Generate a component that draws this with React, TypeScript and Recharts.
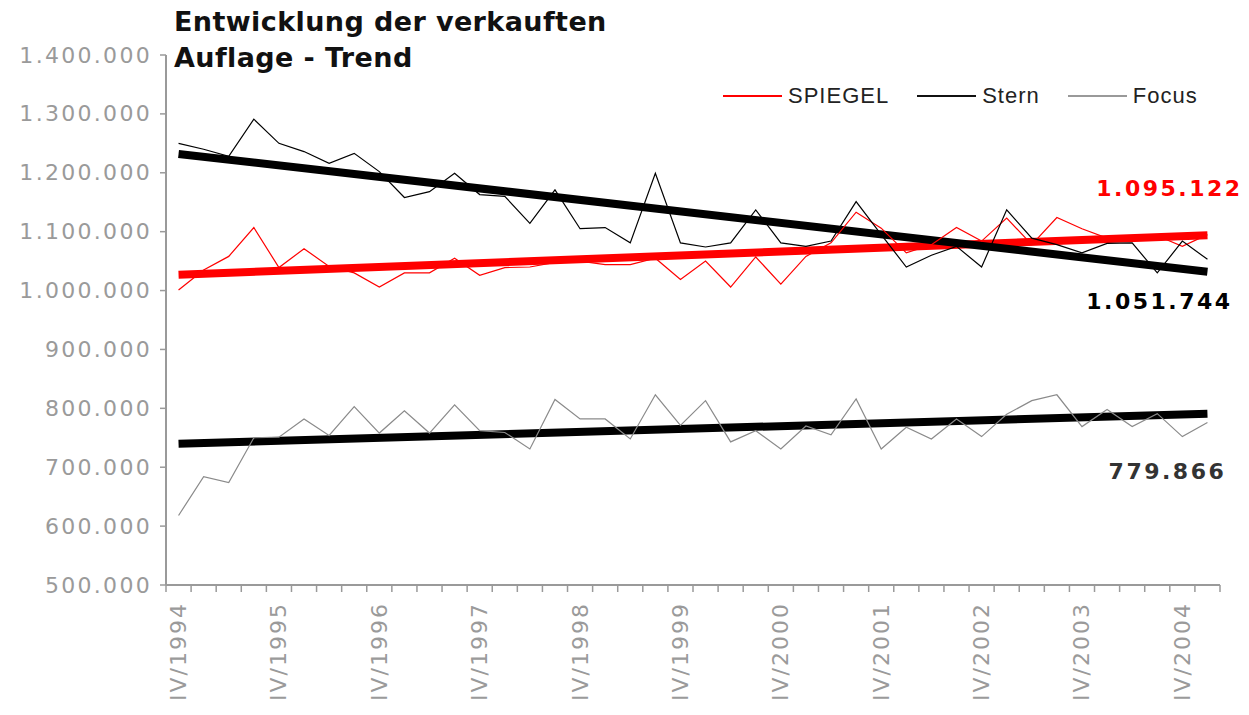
import React from "react";
import { LineChart, Line, XAxis, YAxis } from "recharts";

// quarterly sold circulation, IV/1994 .. I/2005
const tickLabels = [
  "IV/1994", "IV/1995", "IV/1996", "IV/1997", "IV/1998", "IV/1999",
  "IV/2000", "IV/2001", "IV/2002", "IV/2003", "IV/2004",
];

const spiegel = [
  1001000, 1035000, 1058000, 1107000, 1039000, 1071000, 1041000, 1030000,
  1006000, 1030000, 1030000, 1055000, 1026000, 1039000, 1040000, 1048000,
  1050000, 1044000, 1044000, 1055000, 1019000, 1050000, 1006000, 1057000,
  1011000, 1058000, 1081000, 1133000, 1106000, 1064000, 1078000, 1107000,
  1084000, 1123000, 1078000, 1124000, 1105000, 1089000, 1090000, 1093000,
  1075000, 1095000,
];

const stern = [
  1250000, 1240000, 1228000, 1291000, 1250000, 1236000, 1216000, 1233000,
  1202000, 1158000, 1168000, 1199000, 1163000, 1160000, 1114000, 1171000,
  1105000, 1107000, 1081000, 1199000, 1081000, 1074000, 1081000, 1137000,
  1081000, 1075000, 1084000, 1151000, 1095000, 1040000, 1060000, 1075000,
  1040000, 1137000, 1089000, 1078000, 1064000, 1080000, 1081000, 1030000,
  1084000, 1053000,
];

const focus = [
  618000, 684000, 674000, 750000, 751000, 782000, 754000, 803000,
  758000, 796000, 758000, 806000, 762000, 759000, 731000, 815000,
  782000, 782000, 748000, 823000, 771000, 813000, 743000, 762000,
  731000, 770000, 755000, 816000, 731000, 768000, 748000, 782000,
  752000, 790000, 813000, 823000, 769000, 798000, 769000, 791000,
  752000, 776000,
];

// trend lines: first and last value
const spiegelTrend = [1027000, 1094000];
const sternTrend = [1232000, 1032000];
const focusTrend = [740000, 791000];
const trendLabels = ["1.095.122", "1.051.744", "779.866"];

const yTicks = [500000, 600000, 700000, 800000, 900000, 1000000, 1100000, 1200000, 1300000, 1400000];

const GRAY = "#9a9a9a";
const FONT = "'DejaVu Sans', Verdana, sans-serif";

const rows = spiegel.map((v, i) => ({ i, spiegel: v, stern: stern[i], focus: focus[i] }));
const lastIdx = rows.length - 1;
const trendRows = (vals: number[]) => [
  { i: 0, t: vals[0] },
  { i: lastIdx, t: vals[1] },
];

const xTicks: number[] = [];
for (let k = 0; k <= rows.length; k++) xTicks.push(k - 0.5);
tickLabels.forEach((_, n) => xTicks.push(n * 4));
xTicks.sort((a, b) => a - b);

const fmt = (v: number) => String(v).replace(/\B(?=(\d{3})+(?!\d))/g, ".");

function XTick({ x, y, payload }: any) {
  const v = payload.value;
  if (!Number.isInteger(v)) {
    return <line x1={x} x2={x} y1={y} y2={y + 7} stroke={GRAY} strokeWidth={1.5} />;
  }
  return (
    <text
      transform={`translate(${x},${y + 17}) rotate(-90)`}
      textAnchor="end"
      dominantBaseline="central"
      fill={GRAY}
      fontSize={22}
      fontFamily={FONT}
      letterSpacing={2}
    >
      {tickLabels[v / 4]}
    </text>
  );
}

function YTick({ x, y, payload }: any) {
  return (
    <text
      x={x}
      y={y}
      textAnchor="end"
      dominantBaseline="central"
      fill={GRAY}
      fontSize={22}
      fontFamily={FONT}
      letterSpacing={2.3}
    >
      {fmt(payload.value)}
    </text>
  );
}

const endLabel = (text: string, color: string, dx: number, dy: number) => (p: any) =>
  p.index === 1 ? (
    <text
      key={`lbl-${p.index}`}
      x={p.cx + dx}
      y={p.cy + dy}
      textAnchor="middle"
      dominantBaseline="central"
      fill={color}
      fontSize={22}
      fontWeight="bold"
      fontFamily={FONT}
      letterSpacing={2.5}
    >
      {text}
    </text>
  ) : (
    <g key={`lbl-${p.index}`} />
  );

const legendItems = [
  { name: "SPIEGEL", color: "#ff0000" },
  { name: "Stern", color: "#111111" },
  { name: "Focus", color: "#999999" },
];

export default function App() {
  return (
    <div style={{ position: "absolute", left: 0, top: 0, width: 1249, height: 715, background: "#fff" }}>
      <div
        style={{
          position: "absolute",
          left: 174,
          top: 4,
          fontFamily: FONT,
          fontWeight: "bold",
          fontSize: 27,
          letterSpacing: 0.4,
          lineHeight: "36px",
          color: "#111",
        }}
      >
        Entwicklung der verkauften
        <br />
        Auflage - Trend
      </div>
      <div
        style={{
          position: "absolute",
          left: 723,
          top: 83,
          display: "flex",
          alignItems: "center",
          fontFamily: "'Liberation Sans', Arial, sans-serif",
          fontSize: 22,
          letterSpacing: 1,
          color: "#222",
          height: 26,
        }}
      >
        {legendItems.map((it) => (
          <div key={it.name} style={{ display: "flex", alignItems: "center", marginRight: 28 }}>
            <div style={{ width: 59, height: 2, background: it.color, marginRight: 6 }} />
            <span>{it.name}</span>
          </div>
        ))}
      </div>
      <LineChart
        width={1249}
        height={715}
        data={rows}
        margin={{ top: 55, right: 29, bottom: 5, left: 0 }}
        style={{ position: "absolute", left: 0, top: 0 }}
      >
        <XAxis
          dataKey="i"
          type="number"
          domain={[-0.5, lastIdx + 0.5]}
          ticks={xTicks}
          interval={0}
          height={125}
          tickLine={false}
          tickSize={0}
          tickMargin={0}
          tick={<XTick />}
          axisLine={{ stroke: GRAY, strokeWidth: 2 }}
          allowDecimals
        />
        <YAxis
          type="number"
          domain={[500000, 1400000]}
          ticks={yTicks}
          interval={0}
          width={166}
          tickSize={6}
          tickMargin={8}
          tickLine={{ stroke: GRAY, strokeWidth: 1.5 }}
          axisLine={{ stroke: GRAY, strokeWidth: 2 }}
          tick={<YTick />}
        />
        <Line
          data={trendRows(spiegelTrend)}
          dataKey="t"
          stroke="#ff0000"
          strokeWidth={8}
          strokeLinecap="butt"
          dot={endLabel(trendLabels[0], "#ff0000", -38, -47)}
          activeDot={false}
          isAnimationActive={false}
        />
        <Line
          data={trendRows(sternTrend)}
          dataKey="t"
          stroke="#000000"
          strokeWidth={8}
          strokeLinecap="butt"
          dot={endLabel(trendLabels[1], "#000000", -48, 30)}
          activeDot={false}
          isAnimationActive={false}
        />
        <Line
          data={trendRows(focusTrend)}
          dataKey="t"
          stroke="#000000"
          strokeWidth={8}
          strokeLinecap="butt"
          dot={endLabel(trendLabels[2], "#333333", -40, 58)}
          activeDot={false}
          isAnimationActive={false}
        />
        <Line dataKey="spiegel" stroke="#ff0000" strokeWidth={1.2} dot={false} isAnimationActive={false} />
        <Line dataKey="stern" stroke="#000000" strokeWidth={1.2} dot={false} isAnimationActive={false} />
        <Line dataKey="focus" stroke="#8a8a8a" strokeWidth={1.2} dot={false} isAnimationActive={false} />
      </LineChart>
    </div>
  );
}
